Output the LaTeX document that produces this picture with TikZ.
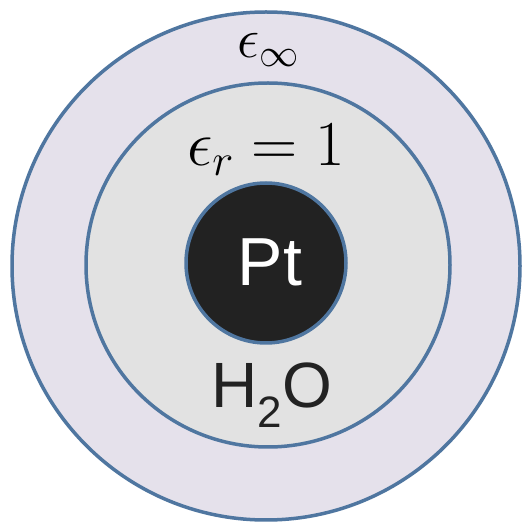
\documentclass[tikz,border=0pt]{standalone}
\usepackage{fix-cm}
\usepackage{fontspec}
\newfontfamily\labelfont{Liberation Sans}
\definecolor{ringblue}{HTML}{4F76A0}
\definecolor{outerfill}{HTML}{E5E1EB}
\definecolor{midfill}{HTML}{E2E2E2}
\definecolor{corefill}{HTML}{222222}
\begin{document}
\begin{tikzpicture}[x=1pt,y=1pt,
  ring/.style={draw=ringblue,line width=3.5pt},
  labeltext/.style={inner sep=0pt}]
\useasboundingbox (0,0) rectangle (522,528);
\fill[white] (0,0) rectangle (522,528);
\node[ring,circle,fill=outerfill,minimum size=508pt] (outer) at (266,262) {};
\node[ring,circle,fill=midfill,minimum size=364pt] (mid) at (268,263) {};
\node[ring,circle,fill=corefill,minimum size=160pt] (core) at (266,265) {};
\node[labeltext] (einf) at (268,478) {\fontsize{56}{64}\selectfont$\epsilon_\infty$};
\node[labeltext] (er) at (266,378) {\fontsize{64}{74}\selectfont$\epsilon_r=1$};
\node[labeltext,text=white] (pt) at (270,266) {\labelfont\fontsize{68}{80}\selectfont Pt};
\node[labeltext,text=corefill,anchor=base] (h2o) at (272,120) {\labelfont\fontsize{64}{74}\selectfont H\raisebox{-0.3em}{\fontsize{44}{50}\selectfont 2}O};
\end{tikzpicture}
\end{document}
